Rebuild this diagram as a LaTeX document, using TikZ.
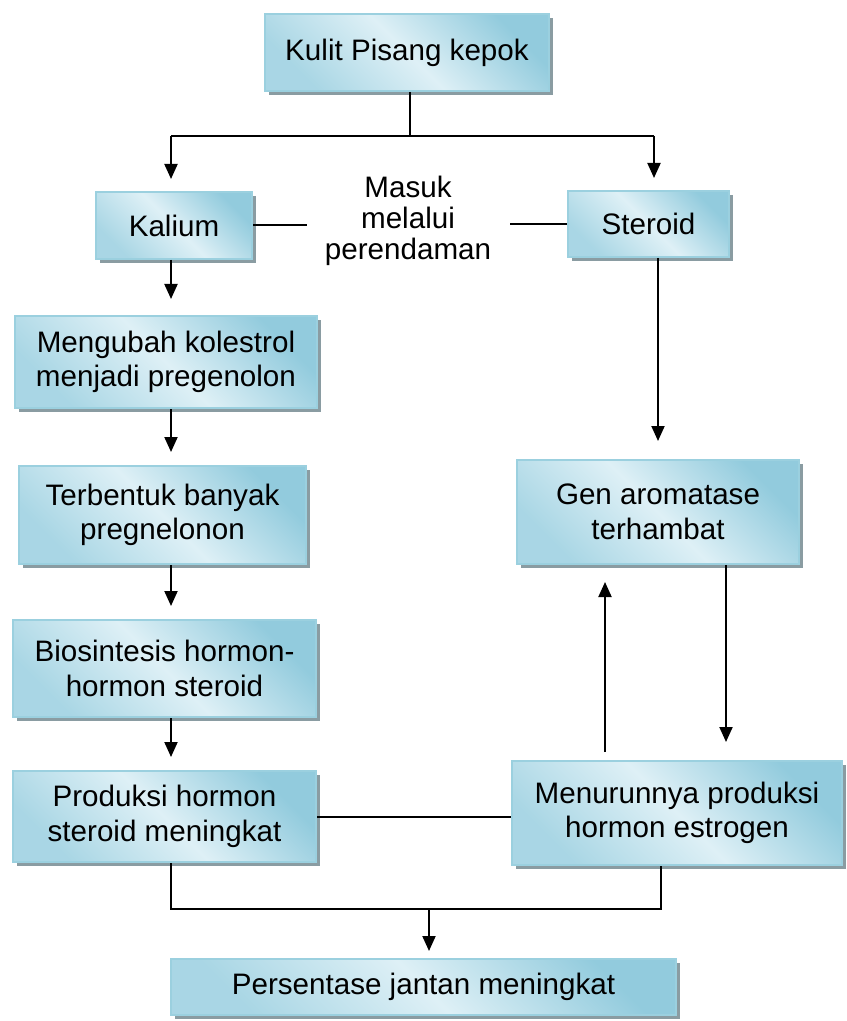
\documentclass[tikz,border=0pt]{standalone}
\usepackage{fontspec}
\setmainfont{Liberation Sans}
\usetikzlibrary{arrows.meta,shadows}
\definecolor{boxdark}{RGB}{146,203,221}
\definecolor{boxlight}{RGB}{222,240,246}
\definecolor{boxline}{RGB}{155,208,223}
\definecolor{bayang}{RGB}{138,156,162}

\begin{document}
\begin{tikzpicture}[x=0.5pt,y=-0.5pt,font=\fontsize{14.8pt}{17.3pt}\selectfont,
  kotak/.style={draw=boxline,line width=1pt,inner sep=0pt,align=center,
    top color=boxdark,bottom color=boxdark!70!boxlight,middle color=boxlight,shading angle=-45,
    drop shadow={shadow xshift=2pt,shadow yshift=-2pt,fill=bayang,opacity=1}},
  panah/.style={-{Triangle[length=7.5pt,width=6.5pt]},line width=1pt,shorten >=6.5pt},
  garis/.style={line width=1pt}]

\useasboundingbox (0,0) rectangle (846,1021);

%kotak-kotak
\node[kotak,minimum width=142pt,minimum height=38.5pt] (kulit) at (407,52.5) {Kulit Pisang kepok};
\node[kotak,minimum width=78pt,minimum height=33.5pt] (kalium) at (174,225.5) {Kalium};
\node[kotak,minimum width=80.5pt,minimum height=33pt] (steroid) at (648.5,224) {Steroid};
\node[align=center,inner sep=9pt,font=\fontsize{14.8pt}{15.5pt}\selectfont] (masuk) at (408,221) {Masuk\\melalui\\perendaman};

\node[kotak,minimum width=151pt,minimum height=46pt] (mengubah) at (166,362) {Mengubah kolestrol\\menjadi pregenolon};
\node[kotak,minimum width=143.5pt,minimum height=49pt] (terbentuk) at (162.5,515) {Terbentuk banyak\\pregnelonon};
\node[kotak,minimum width=151.5pt,minimum height=48.5pt] (biosintesis) at (164.5,668.5) {Biosintesis hormon-\\hormon steroid};
\node[kotak,minimum width=151.5pt,minimum height=45.5pt] (produksi) at (164.5,816.5) {Produksi hormon\\steroid meningkat};

\node[kotak,minimum width=141pt,minimum height=52pt] (gen) at (658,512) {Gen aromatase\\terhambat};
\node[kotak,minimum width=165pt,minimum height=52pt] (menurunnya) at (677,813) {Menurunnya produksi\\hormon estrogen};

\node[kotak,minimum width=252.5pt,minimum height=28pt] (persentase) at (423.5,987) {Persentase jantan meningkat};

\coordinate (kiri) at (171,0);
\coordinate (kanan) at (654,0);
\coordinate (kanan2) at (661,0);
\coordinate (naik) at (605,0);
\coordinate (turun) at (726,0);
\coordinate (atas) at (410,136);
\coordinate (bawah) at (429,909);

%cabang atas
\draw[garis] (kulit.south -| atas) -- (atas);
\draw[garis] (kiri |- atas) -- (kanan |- atas);
\draw[panah,shorten >=6pt] (kiri |- atas) -- (kiri |- kalium.north);
\draw[panah,shorten >=6pt] (kanan |- atas) -- (kanan |- steroid.north);

\draw[garis] (kalium.east) -- (kalium.east -| masuk.west);
\draw[garis] (steroid.west) -- (steroid.west -| masuk.east);

%kolom kiri
\draw[panah,shorten >=8pt] (kiri |- kalium.south) -- (kiri |- mengubah.north);
\foreach \a/\b in {mengubah/terbentuk,terbentuk/biosintesis,biosintesis/produksi}
  \draw[panah] (kiri |- \a.south) -- (kiri |- \b.north);

%kolom kanan
\draw[panah,shorten >=9pt] (gen.north |- steroid.south) -- (gen.north);
\draw[panah,shorten >=9pt] (turun |- gen.south) -- (turun |- menurunnya.north);
\draw[panah,shorten >=8.5pt,shorten <=4pt] (naik |- menurunnya.north) -- (naik |- gen.south);

\draw[garis] (produksi.east) -- (produksi.east -| menurunnya.west);

%gabung bawah
\draw[garis] (kiri |- produksi.south) -- (kiri |- bawah) -- (kanan2 |- bawah) -- (kanan2 |- menurunnya.south);
\draw[panah,shorten >=3.5pt] (bawah) -- (bawah |- persentase.north);

\end{tikzpicture}
\end{document}
